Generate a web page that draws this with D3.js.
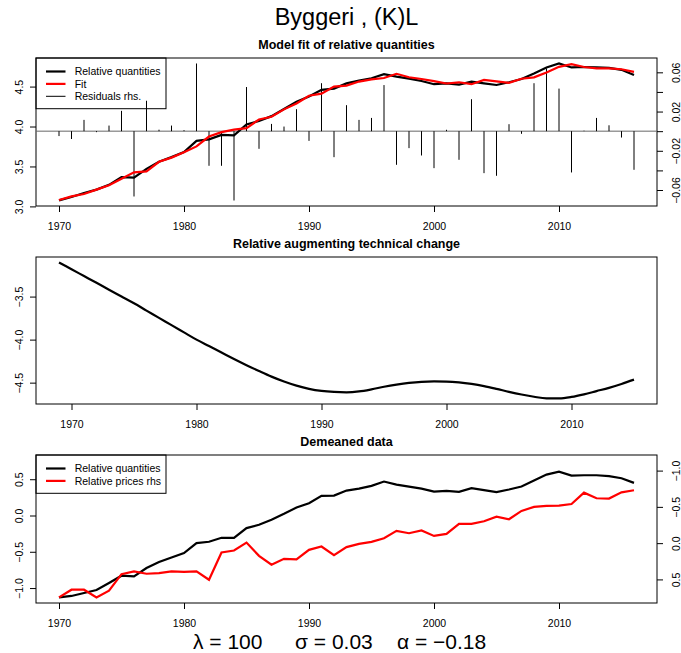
<!DOCTYPE html>
<html>
<head>
<meta charset="utf-8">
<script src="https://cdn.jsdelivr.net/npm/d3@7"></script>
<style>
  body { margin: 0; background: #fff; }
  svg { display: block; font-family: "Liberation Sans", Arial, Helvetica, sans-serif; }
</style>
</head>
<body>
<svg id="chart"></svg>
<script>
const mainTitle = "Byggeri , (K)L";
const panelTitles = ["Model fit of relative quantities", "Relative augmenting technical change", "Demeaned data"];

const years = [1970,1971,1972,1973,1974,1975,1976,1977,1978,1979,1980,1981,1982,1983,1984,1985,1986,1987,1988,1989,
  1990,1991,1992,1993,1994,1995,1996,1997,1998,1999,2000,2001,2002,2003,2004,2005,2006,2007,2008,2009,
  2010,2011,2012,2013,2014,2015,2016];
const techYears = [1969,1970,1971,1972,1973,1974,1975,1976,1977,1978,1979,1980,1981,1982,1983,1984,1985,1986,1987,1988,
  1989,1990,1991,1992,1993,1994,1995,1996,1997,1998,1999,2000,2001,2002,2003,2004,2005,2006,2007,2008,
  2009,2010,2011,2012,2013,2014,2015];

// top panel
const relQuant = [3.075,3.117,3.167,3.21,3.27,3.367,3.36,3.47,3.56,3.617,
  3.68,3.82,3.84,3.895,3.89,4.025,4.07,4.13,4.22,4.31,
  4.375,4.46,4.475,4.54,4.575,4.605,4.655,4.625,4.6,4.57,
  4.53,4.54,4.525,4.563,4.54,4.52,4.555,4.595,4.665,4.74,
  4.79,4.74,4.745,4.74,4.735,4.71,4.645];
const fitted = [3.08,3.125,3.155,3.21,3.264,3.346,3.427,3.439,3.558,3.611,
  3.679,3.751,3.875,3.93,3.961,3.98,4.088,4.123,4.215,4.288,
  4.385,4.411,4.5,4.513,4.563,4.59,4.608,4.66,4.617,4.595,
  4.568,4.539,4.554,4.53,4.583,4.565,4.548,4.598,4.616,4.676,
  4.747,4.782,4.745,4.727,4.729,4.717,4.684];
const residuals = [-0.005,-0.008,0.0115,-0.001,0.0057,0.0207,-0.0666,0.031,0.0015,0.0057,
  0.001,0.069,-0.0353,-0.0353,-0.0707,0.045,-0.018,0.0074,0.0047,0.0224,
  -0.0099,0.0489,-0.0265,0.0265,0.0115,0.0135,0.047,-0.0343,-0.0173,-0.0248,
  -0.0377,0.0014,-0.0292,0.0326,-0.0428,-0.0455,0.0071,-0.0027,0.0489,0.064,
  0.0434,-0.0421,0.0005,0.0135,0.006,-0.0065,-0.0394];

// middle panel
const techChange = [-3.103,-3.182,-3.261,-3.34,-3.42,-3.499,-3.578,-3.663,-3.747,-3.832,
  -3.916,-4.0,-4.075,-4.15,-4.225,-4.297,-4.365,-4.43,-4.487,-4.535,
  -4.572,-4.596,-4.608,-4.612,-4.602,-4.578,-4.548,-4.523,-4.503,-4.49,
  -4.485,-4.487,-4.497,-4.515,-4.54,-4.572,-4.607,-4.638,-4.664,-4.682,
  -4.682,-4.666,-4.636,-4.598,-4.56,-4.515,-4.465];

// bottom panel
const demeanedQuant = [-1.128,-1.109,-1.068,-1.027,-0.93,-0.83,-0.84,-0.724,-0.642,-0.578,
  -0.518,-0.38,-0.362,-0.307,-0.307,-0.174,-0.128,-0.059,0.023,0.11,
  0.17,0.271,0.275,0.344,0.371,0.408,0.468,0.426,0.399,0.371,
  0.33,0.34,0.326,0.377,0.349,0.322,0.358,0.399,0.481,0.564,
  0.605,0.55,0.555,0.555,0.542,0.514,0.45];
const demeanedPrices = [0.748,0.642,0.642,0.748,0.656,0.427,0.39,0.422,0.413,0.39,
  0.395,0.39,0.505,0.129,0.101,-0.008,0.175,0.298,0.216,0.225,
  0.092,0.046,0.165,0.055,0.01,-0.018,-0.068,-0.169,-0.137,-0.174,
  -0.1,-0.128,-0.266,-0.266,-0.302,-0.366,-0.33,-0.444,-0.5,-0.513,
  -0.517,-0.54,-0.696,-0.619,-0.614,-0.701,-0.729];

// ticks and labels
const xTicks = [1970, 1980, 1990, 2000, 2010];
const topLeftTicks = [3.0, 3.5, 4.0, 4.5];
const topRightTicks = [-0.06, -0.04, -0.02, 0, 0.02, 0.04, 0.06];
const topRightLabelled = [-0.06, -0.02, 0.02, 0.06];
const midLeftTicks = [-4.5, -4.0, -3.5];
const botLeftTicks = [-1.0, -0.5, 0.0, 0.5];
const botRightTicks = [-1.0, -0.5, 0.0, 0.5];
const topLegend = ["Relative quantities", "Fit", "Residuals rhs."];
const botLegend = ["Relative quantities", "Relative prices rhs"];
const params = [["λ", "100"], ["σ", "0.03"], ["α", "−0.18"]];

const width = 681, height = 653;
const left = 36, right = 657;
const panels = [{top: 58, bottom: 206}, {top: 257, bottom: 404}, {top: 455, bottom: 603}];
const font = 10.5;

const svg = d3.select("#chart").attr("width", width).attr("height", height);
svg.append("rect").attr("width", width).attr("height", height).attr("fill", "#fff");

svg.append("text")
  .attr("x", (left + right) / 2).attr("y", 25)
  .attr("text-anchor", "middle").attr("font-size", 23.5)
  .text(mainTitle);

function panelFrame(p, title) {
  svg.append("text")
    .attr("x", (left + right) / 2).attr("y", p.top - 9)
    .attr("text-anchor", "middle").attr("font-size", 12.5).attr("font-weight", "bold")
    .text(title);
  svg.append("rect")
    .attr("x", left).attr("y", p.top)
    .attr("width", right - left).attr("height", p.bottom - p.top)
    .attr("fill", "none").attr("stroke", "#000").attr("stroke-width", 1);
}

function xAxis(p, x) {
  const g = svg.append("g").attr("transform", `translate(0,${p.bottom})`)
    .call(d3.axisBottom(x).tickValues(xTicks).tickSize(6).tickFormat(d3.format("d")));
  g.select(".domain").remove();
  g.selectAll(".tick text").attr("y", 23.5).attr("dy", null)
    .attr("font-size", font).attr("font-family", null).attr("fill", "#000");
}

function yAxis(y, ticks, side, fmt, labelled) {
  const axis = side === "left" ? d3.axisLeft(y) : d3.axisRight(y);
  const g = svg.append("g").attr("transform", `translate(${side === "left" ? left : right},0)`)
    .call(axis.tickValues(ticks).tickSize(6).tickFormat(fmt));
  g.select(".domain").remove();
  g.selectAll(".tick text")
    .attr("x", null).attr("dy", null)
    .attr("text-anchor", "middle")
    .attr("font-size", font).attr("font-family", null).attr("fill", "#000")
    .attr("transform", side === "left" ? "translate(-13,0) rotate(-90)" : "translate(23,0) rotate(-90)")
    .style("display", d => (!labelled || labelled.includes(d)) ? null : "none");
}

function legend(p, items) {
  const g = svg.append("g");
  g.append("rect")
    .attr("x", left).attr("y", p.top)
    .attr("width", 130).attr("height", items.length * 12.4 + 13.5)
    .attr("fill", "none").attr("stroke", "#000");
  items.forEach((it, i) => {
    const cy = p.top + 13.5 + i * 12.4;
    g.append("line")
      .attr("x1", left + 10).attr("x2", left + 29.5)
      .attr("y1", cy).attr("y2", cy)
      .attr("stroke", it.color).attr("stroke-width", it.lw);
    g.append("text")
      .attr("x", left + 38.7).attr("y", cy + 3.8)
      .attr("font-size", font)
      .text(it.label);
  });
}

// ---- panel 1: model fit
{
  const p = panels[0];
  const x = d3.scaleLinear().domain([1968.16, 2017.84]).range([left, right]);
  const y = d3.scaleLinear().domain([3.005, 4.858]).range([p.bottom, p.top]);
  const yr = d3.scaleLinear().domain([-0.0763, 0.0746]).range([p.bottom, p.top]);

  panelFrame(p, panelTitles[0]);

  // zero line of the residuals (rhs)
  svg.append("line")
    .attr("x1", left).attr("x2", right)
    .attr("y1", yr(0)).attr("y2", yr(0))
    .attr("stroke", "#666").attr("stroke-width", 1);

  svg.append("g").selectAll("line")
    .data(years)
    .join("line")
    .attr("x1", d => x(d)).attr("x2", d => x(d))
    .attr("y1", yr(0)).attr("y2", (d, i) => yr(residuals[i]))
    .attr("stroke", "#000").attr("stroke-width", 1);

  const line = d3.line().x(d => x(d[0])).y(d => y(d[1]));
  svg.append("path").datum(years.map((d, i) => [d, relQuant[i]]))
    .attr("d", line).attr("fill", "none").attr("stroke", "#000").attr("stroke-width", 2.2);
  svg.append("path").datum(years.map((d, i) => [d, fitted[i]]))
    .attr("d", line).attr("fill", "none").attr("stroke", "#ff0000").attr("stroke-width", 2.2);

  xAxis(p, x);
  yAxis(y, topLeftTicks, "left", d3.format(".1f"));
  yAxis(yr, topRightTicks, "right", d3.format(".2f"), topRightLabelled);

  legend(p, [
    {label: topLegend[0], color: "#000", lw: 2.2},
    {label: topLegend[1], color: "#ff0000", lw: 2.2},
    {label: topLegend[2], color: "#000", lw: 1}
  ]);
}

// ---- panel 2: technical change
{
  const p = panels[1];
  const x = d3.scaleLinear().domain([1967.16, 2016.84]).range([left, right]);
  const y = d3.scaleLinear().domain([-4.748, -3.04]).range([p.bottom, p.top]);

  panelFrame(p, panelTitles[1]);

  svg.append("path").datum(techYears.map((d, i) => [d, techChange[i]]))
    .attr("d", d3.line().curve(d3.curveMonotoneX).x(d => x(d[0])).y(d => y(d[1])))
    .attr("fill", "none").attr("stroke", "#000").attr("stroke-width", 2.2);

  xAxis(p, x);
  yAxis(y, midLeftTicks, "left", d3.format(".1f"));
}

// ---- panel 3: demeaned data
{
  const p = panels[2];
  const x = d3.scaleLinear().domain([1968.16, 2017.84]).range([left, right]);
  const y = d3.scaleLinear().domain([-1.206, 0.834]).range([p.bottom, p.top]);
  const yr = d3.scaleLinear().domain([0.825, -1.215]).range([p.bottom, p.top]);

  panelFrame(p, panelTitles[2]);

  svg.append("path").datum(years.map((d, i) => [d, demeanedQuant[i]]))
    .attr("d", d3.line().x(d => x(d[0])).y(d => y(d[1])))
    .attr("fill", "none").attr("stroke", "#000").attr("stroke-width", 2.2);
  svg.append("path").datum(years.map((d, i) => [d, demeanedPrices[i]]))
    .attr("d", d3.line().x(d => x(d[0])).y(d => yr(d[1])))
    .attr("fill", "none").attr("stroke", "#ff0000").attr("stroke-width", 2.2);

  xAxis(p, x);
  yAxis(y, botLeftTicks, "left", d3.format(".1f"));
  yAxis(yr, botRightTicks, "right", d3.format(".1f"));

  legend(p, [
    {label: botLegend[0], color: "#000", lw: 2.2},
    {label: botLegend[1], color: "#ff0000", lw: 2.2}
  ]);
}

// parameter line under the plots
const paramX = [193, 295, 397];
const pt = svg.append("text").attr("y", 649).attr("font-size", 21);
params.forEach((d, i) => {
  pt.append("tspan").attr("x", paramX[i]).text(`${d[0]} = ${d[1]}`);
});
</script>
</body>
</html>
